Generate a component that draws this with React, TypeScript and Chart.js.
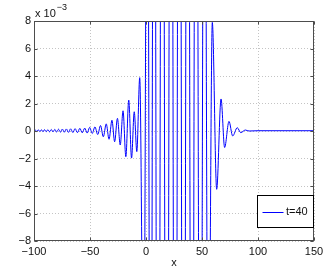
import React, { useEffect, useRef } from 'react';
import { Chart, registerables } from 'chart.js';

Chart.register(...registerables);

// x positions of the wave's turning points
const xValues = [
  -100, -98.9, -97.6, -96.2, -94.8, -93.4, -92.0, -90.6, -89.1, -87.6, -86.1,
  -84.6, -83.0, -81.4, -79.8, -78.1, -76.4, -74.7, -72.9, -71.1, -69.2, -67.3,
  -65.3, -63.3, -61.2, -59.1, -56.9, -54.7, -52.5, -50.3, -48.0, -45.6, -43.1,
  -40.6, -38.1, -35.5, -33.0, -30.4, -28.0, -25.5, -23.0, -20.5, -18.0, -15.4,
  -12.9, -10.5, -8.2, -5.6, -2.05, 1.16, 4.2, 7.14, 10.7, 14.55, 18.5, 22.3,
  26.1, 29.7, 33.5, 37.2, 41.0, 44.6, 48.5, 52.1, 55.6, 59.2, 63.1, 67.0, 70.2,
  74.1, 77.4, 81.5, 84.6, 88.7, 92.0, 100, 150,
];
// y values in units of 10^-3
const yValues = [
  0.0, 0.08, -0.04, 0.09, -0.04, 0.09, -0.05, 0.1, -0.05, 0.1, -0.06,
  0.11, -0.06, 0.12, -0.07, 0.13, -0.08, 0.14, -0.09, 0.15, -0.1, 0.16,
  -0.11, 0.17, -0.12, 0.19, -0.13, 0.21, -0.15, 0.26, -0.18, 0.3, -0.26,
  0.4, -0.42, 0.52, -0.6, 0.78, -0.78, 0.92, -1.02, 1.47, -1.87, 2.25,
  -1.97, 1.4, -1.5, 3.88, -20, 30, -38, 45, -50, 50, -50, 50,
  -50, 50, -50, 50, -48, 45, -40, 35, -25, 7.9, -4.24, 2.33, -1.2,
  0.7, -0.36, 0.24, -0.12, 0.07, 0.0, 0.02, 0.02,
];
const xTicks = [-100, -50, 0, 50, 100, 150];
const yTicks = [-8, -6, -4, -2, 0, 2, 4, 6, 8];
const seriesLabel = 't=40';
const xAxisLabel = 'x';
const multiplierBase = 'x 10';
const multiplierExp = '\u22123';

const FONT = "'Liberation Sans', Arial, Helvetica, sans-serif";
const fmt = (v: number) => (v < 0 ? '\u2212' + Math.abs(v) : String(v));

const framePlugin = {
  id: 'matlabFrame',
  afterDraw(chart: any) {
    const { ctx, chartArea, scales } = chart;
    const { left, right, top, bottom } = chartArea;
    const L = Math.round(left) + 0.5;
    const R = Math.round(right) - 0.5;
    const T = Math.round(top) + 0.5;
    const B = Math.round(bottom) - 0.5;
    ctx.save();
    ctx.strokeStyle = '#4d4d4d';
    ctx.lineWidth = 1;
    ctx.strokeRect(L, T, R - L, B - T);
    const tl = 3;
    ctx.beginPath();
    xTicks.forEach((v) => {
      const p = Math.round(scales.x.getPixelForValue(v)) + 0.5;
      ctx.moveTo(p, B);
      ctx.lineTo(p, B - tl);
      ctx.moveTo(p, T);
      ctx.lineTo(p, T + tl);
    });
    yTicks.forEach((v) => {
      const p = Math.round(scales.y.getPixelForValue(v)) + 0.5;
      ctx.moveTo(L, p);
      ctx.lineTo(L + tl, p);
      ctx.moveTo(R, p);
      ctx.lineTo(R - tl, p);
    });
    ctx.stroke();

    // multiplier
    ctx.fillStyle = '#111';
    ctx.textBaseline = 'alphabetic';
    ctx.textAlign = 'left';
    ctx.font = `11px ${FONT}`;
    ctx.fillText(multiplierBase, left + 1, top - 4);
    const w = ctx.measureText(multiplierBase).width;
    ctx.font = `9px ${FONT}`;
    ctx.fillText(multiplierExp, left + 2 + w, top - 11);

    // legend
    const ds = chart.data.datasets[0];
    const lw = 56;
    const lh = 32;
    const lx = Math.round(right) - lw - 0.5;
    const ly = Math.round(bottom) - 14 - lh + 0.5;
    ctx.fillStyle = '#fff';
    ctx.fillRect(lx, ly, lw, lh);
    ctx.strokeStyle = '#000';
    ctx.lineWidth = 1;
    ctx.strokeRect(lx, ly, lw, lh);
    const cy = ly + lh / 2;
    ctx.strokeStyle = ds.borderColor;
    ctx.beginPath();
    ctx.moveTo(lx + 5, Math.round(cy) + 0.5);
    ctx.lineTo(lx + 26, Math.round(cy) + 0.5);
    ctx.stroke();
    ctx.fillStyle = '#111';
    ctx.font = `11px ${FONT}`;
    ctx.textBaseline = 'middle';
    ctx.fillText(ds.label, lx + 28.5, cy + 0.5);
    ctx.restore();
  },
};

export default function App() {
  const ref = useRef<HTMLCanvasElement | null>(null);
  useEffect(() => {
    if (!ref.current) return;
    const chart = new Chart(ref.current, {
      type: 'line',
      data: {
        datasets: [
          {
            label: seriesLabel,
            data: xValues.map((x, i) => ({ x, y: yValues[i] })),
            borderColor: '#0000ff',
            borderWidth: 1,
            pointRadius: 0,
            cubicInterpolationMode: 'monotone',
            fill: false,
          },
        ],
      },
      options: {
        responsive: false,
        animation: false,
        devicePixelRatio: 1,
        layout: { padding: { top: 21, right: 13, left: 0, bottom: 0 } },
        plugins: { legend: { display: false }, tooltip: { enabled: false } },
        scales: {
          x: {
            type: 'linear',
            min: -100,
            max: 150,
            afterBuildTicks: (s: any) => {
              s.ticks = xTicks.map((value) => ({ value }));
            },
            afterFit: (s: any) => {
              s.height = 31;
              s.paddingLeft = 0;
              s.paddingRight = 0;
            },
            grid: { color: '#c4c4c4', drawTicks: false, lineWidth: 1 },
            border: { display: false, dash: [1, 2] },
            ticks: {
              font: { family: FONT, size: 11 },
              color: '#111',
              padding: 4,
              maxRotation: 0,
              autoSkip: false,
              callback: (v: any) => fmt(Number(v)),
            },
            title: {
              display: true,
              text: xAxisLabel,
              font: { family: FONT, size: 11 },
              color: '#111',
              padding: { top: 0, bottom: 2 },
            },
          },
          y: {
            type: 'linear',
            min: -8,
            max: 8,
            afterBuildTicks: (s: any) => {
              s.ticks = yTicks.map((value) => ({ value }));
            },
            afterFit: (s: any) => {
              s.width = 34;
              s.paddingTop = 0;
              s.paddingBottom = 0;
            },
            grid: { color: '#c4c4c4', drawTicks: false, lineWidth: 1 },
            border: { display: false, dash: [1, 2] },
            ticks: {
              font: { family: FONT, size: 11 },
              color: '#111',
              padding: 3,
              autoSkip: false,
              callback: (v: any) => fmt(Number(v)),
            },
          },
        },
      } as any,
      plugins: [framePlugin],
    });
    return () => chart.destroy();
  }, []);
  return (
    <div style={{ position: 'fixed', left: 0, top: 0, width: 327, height: 272, background: '#fff' }}>
      <canvas ref={ref} width={327} height={272} style={{ display: 'block' }} />
    </div>
  );
}
